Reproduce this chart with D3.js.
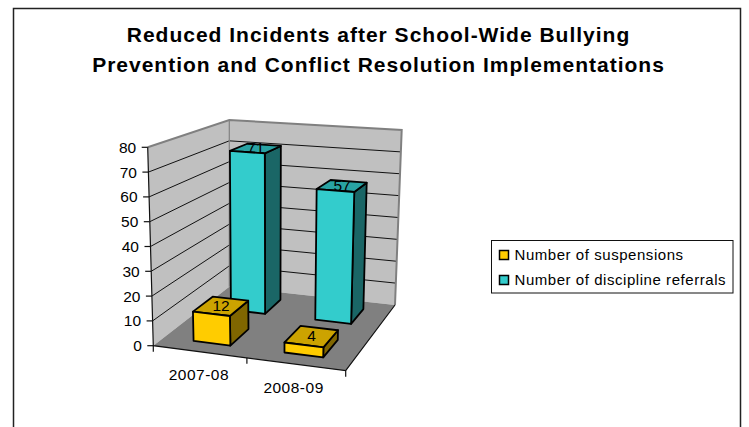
<!DOCTYPE html>
<html><head><meta charset="utf-8">
<script src="https://cdnjs.cloudflare.com/ajax/libs/d3/7.8.5/d3.min.js"></script>
<style>html,body{margin:0;padding:0;background:#fff}svg{display:block}text{font-family:"Liberation Sans",Arial,sans-serif;fill:#000}</style>
</head><body><svg id="c" width="749" height="427"></svg>
<script>
const categories = ["2007-08", "2008-09"];
const seriesNames = ["Number of suspensions", "Number of discipline referrals"];
const suspensions = [12, 4];
const referrals = [71, 57];
const yTicks = [0, 10, 20, 30, 40, 50, 60, 70, 80];
const titleLines = ["Reduced Incidents after School-Wide Bullying", "Prevention and Conflict Resolution Implementations"];
const faceColors = [{front:"#FFCC00", top:"#CCA300", side:"#806600"}, {front:"#33CCCC", top:"#29A3A3", side:"#1A6666"}];

const svg = d3.select("#c");
function squareToQuad(q){
  const [p0,p1,p2,p3]=q;
  const dx1=p1[0]-p2[0],dx2=p3[0]-p2[0],sx=p0[0]-p1[0]+p2[0]-p3[0];
  const dy1=p1[1]-p2[1],dy2=p3[1]-p2[1],sy=p0[1]-p1[1]+p2[1]-p3[1];
  const det=dx1*dy2-dx2*dy1;
  const g=(sx*dy2-dx2*sy)/det,h=(dx1*sy-sx*dy1)/det;
  const a=p1[0]-p0[0]+g*p1[0],b=p3[0]-p0[0]+h*p3[0],c=p0[0];
  const d=p1[1]-p0[1]+g*p1[1],e=p3[1]-p0[1]+h*p3[1],f=p0[1];
  return (u,w)=>{const n=g*u+h*w+1;return [(a*u+b*w+c)/n,(d*u+e*w+f)/n];};
}
// box corners: front-left, front-right, back-right, back-left
const floorH = squareToQuad([[153.3,345.7],[345.7,370.7],[395,305],[229.3,286.7]]);
const topH = squareToQuad([[147.7,147.3],[351.4,162.7],[401.7,130],[229.3,120]]);
const yScale = d3.scaleLinear().domain([0,80]).range([0,1]);
const xBand = d3.scaleBand().domain(categories).range([0,1]).paddingInner(0.589).paddingOuter(0.321).align(0.52);
const zBand = d3.scaleBand().domain(d3.range(seriesNames.length)).range([0,1]).paddingInner(0.5).paddingOuter(0.25);
function P(u,val,w){
  const t=yScale(val),a=floorH(u,w),b=topH(u,w);
  return [a[0]+(b[0]-a[0])*t,a[1]+(b[1]-a[1])*t];
}
const line = pts=>"M"+pts.map(p=>p.join(",")).join("L")+"Z";
const open = pts=>"M"+pts.map(p=>p.join(",")).join("L");

// chart frame
svg.append("path").attr("d","M13.5,427V8.5H740.5V427").attr("fill","none").attr("stroke","#222").attr("stroke-width",1.5);

// title
svg.selectAll("text.title").data(titleLines).join("text").attr("class","title")
  .attr("x",378.5).attr("y",(d,i)=>42+i*29.5).attr("text-anchor","middle")
  .attr("font-size",21).attr("font-weight","bold").attr("letter-spacing",1).text(d=>d);

// walls and floor
const wallG = svg.append("g");
wallG.append("path").attr("d",line([P(0,0,0),P(0,0,1),P(0,80,1),P(0,80,0)])).attr("fill","#C0C0C0");
wallG.append("path").attr("d",line([P(0,0,1),P(1,0,1),P(1,80,1),P(0,80,1)])).attr("fill","#C0C0C0");
wallG.append("path").attr("d",line([P(0,0,0),P(1,0,0),P(1,0,1),P(0,0,1)])).attr("fill","#808080");
wallG.selectAll("path.grid").data(yTicks.filter(v=>v>0&&v<80)).join("path").attr("class","grid")
  .attr("d",v=>open([P(0,v,0),P(0,v,1),P(1,v,1)])).attr("fill","none").attr("stroke","#111").attr("stroke-width",1);
wallG.append("path").attr("d",open([P(0,80,0),P(0,80,1),P(1,80,1),P(1,0,1)])).attr("fill","none").attr("stroke","#808080").attr("stroke-width",2);
wallG.append("path").attr("d",open([P(0,80,1),P(0,0,1)])).attr("fill","none").attr("stroke","#808080").attr("stroke-width",1.2);

// axes
const ax = svg.append("g").attr("fill","none").attr("stroke","#111").attr("stroke-width",1.2);
ax.append("path").attr("d",open([P(0,80,0),P(0,0,0),P(1,0,0),P(1,0,1)]));
ax.selectAll("path.yt").data(yTicks).join("path").attr("class","yt").attr("d",v=>{const p=P(0,v,0);return `M${p[0]-6},${p[1]}H${p[0]}`;});
ax.selectAll("path.xt").data([0,0.5,1]).join("path").attr("class","xt").attr("d",u=>{const p=P(u,0,0);return `M${p[0]},${p[1]}v6`;});
svg.selectAll("text.yl").data(yTicks).join("text").attr("class","yl")
  .attr("x",v=>P(0,v,0)[0]-11.5).attr("y",v=>P(0,v,0)[1]+5.5).attr("text-anchor","end").attr("font-size",15.5).text(v=>v);
svg.selectAll("text.xl").data(categories).join("text").attr("class","xl")
  .attr("x",(c,i)=>P(xBand(c)+xBand.bandwidth()/2,0,0)[0]-3+i*1).attr("y",(c,i)=>P(xBand(c)+xBand.bandwidth()/2,0,0)[1]+28+i)
  .attr("text-anchor","middle").attr("font-size",15.5).attr("letter-spacing",0.5).text(c=>c);

// bars, back row first
const rows = [suspensions, referrals];
const barOrder = [1,0];
barOrder.forEach(s=>{
  categories.forEach((cat,i)=>{
    const v=rows[s][i];
    const u0=xBand(cat),u1=u0+xBand.bandwidth(),w0=zBand(s),w1=w0+zBand.bandwidth();
    const g=svg.append("g").attr("stroke","#000").attr("stroke-width",1.8).attr("stroke-linejoin","round");
    const c=faceColors[s];
    g.append("path").attr("d",line([P(u1,0,w0),P(u1,0,w1),P(u1,v,w1),P(u1,v,w0)])).attr("fill",c.side);
    g.append("path").attr("d",line([P(u0,v,w0),P(u1,v,w0),P(u1,v,w1),P(u0,v,w1)])).attr("fill",c.top);
    g.append("path").attr("d",line([P(u0,0,w0),P(u1,0,w0),P(u1,v,w0),P(u0,v,w0)])).attr("fill",c.front);
    const m=P((u0+u1)/2,v,(w0+w1)/2);
    svg.append("text").attr("x",m[0]).attr("y",m[1]+5).attr("text-anchor","middle").attr("font-size",15.5).attr("fill","#111").text(v);
  });
});

// legend
const lg = svg.append("g");
lg.append("rect").attr("x",491.5).attr("y",240.5).attr("width",241.5).attr("height",52.5).attr("fill","#fff").attr("stroke","#111");
seriesNames.forEach((n,i)=>{
  lg.append("rect").attr("x",499.5).attr("y",250.5+i*25).attr("width",9).attr("height",9).attr("fill",faceColors[i].front).attr("stroke","#000").attr("stroke-width",1.5);
  lg.append("text").attr("x",514.5).attr("y",260+i*25).attr("font-size",15).attr("letter-spacing",0.55).text(n);
});
</script></body></html>
